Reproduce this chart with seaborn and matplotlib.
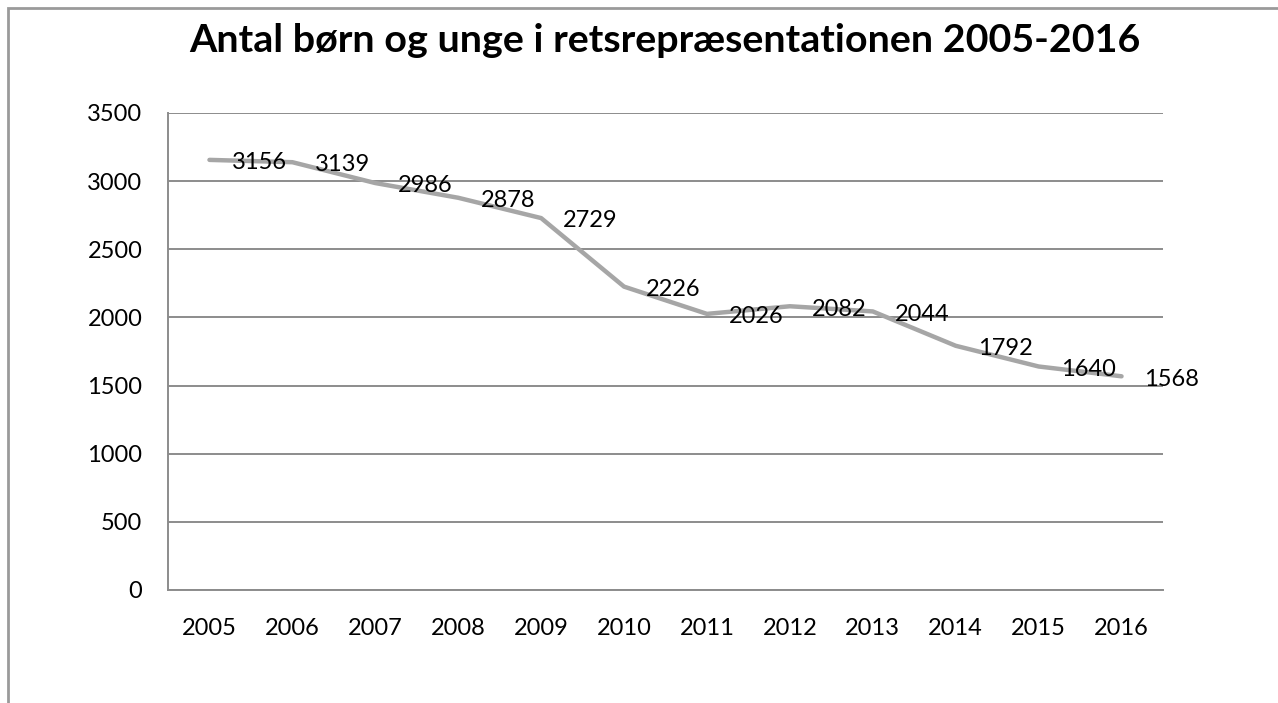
import matplotlib
matplotlib.use('Agg')
import matplotlib.pyplot as plt
import seaborn as sns
import pandas as pd
from matplotlib.patches import Rectangle

# data
years = ['2005', '2006', '2007', '2008', '2009', '2010',
         '2011', '2012', '2013', '2014', '2015', '2016']
counts = [3156, 3139, 2986, 2878, 2729, 2226,
          2026, 2082, 2044, 1792, 1640, 1568]
y_ticks = [0, 500, 1000, 1500, 2000, 2500, 3000, 3500]
title = 'Antal børn og unge i retsrepræsentationen 2005-2016'

df = pd.DataFrame({'year': years, 'count': counts})

sns.set_theme(style='white')
plt.rcParams['font.family'] = ['Lato', 'DejaVu Sans']

fig = plt.figure(figsize=(12.78, 7.03), dpi=100)
ax = fig.add_axes([168 / 1278, 1 - 590 / 703, (1163 - 168) / 1278, (590 - 113) / 703])

sns.lineplot(data=df, x='year', y='count', ax=ax, color='#a6a6a6',
             linewidth=3.2, sort=False, solid_joinstyle='round',
             solid_capstyle='round')

# data labels to the right of each point
for i, v in enumerate(counts):
    ax.annotate(f'{v}', (i, v), xytext=(16, -2), textcoords='offset points',
                ha='left', va='center', fontsize=17, color='black')

ax.set_xlim(-0.5, len(years) - 0.5)
ax.set_ylim(0, 3500)
ax.set_yticks(y_ticks)
ax.yaxis.grid(True, color='#8c8c8c', linewidth=1.4)
ax.xaxis.grid(False)
ax.set_axisbelow(True)
ax.tick_params(axis='both', length=0, labelsize=17, colors='black')
ax.tick_params(axis='y', pad=18.5)
ax.tick_params(axis='x', pad=20)
ax.set_xlabel('')
ax.set_ylabel('')
for side in ['top', 'right']:
    ax.spines[side].set_visible(False)
for side in ['left', 'bottom']:
    ax.spines[side].set_color('#8c8c8c')
    ax.spines[side].set_linewidth(1.4)

fig.text(665 / 1278, 1 - 40 / 703, title, ha='center', va='center',
         fontsize=28.4, fontweight='bold', color='black')

# outer chart border (cut off at right and bottom)
fig.patches.append(Rectangle((8 / 1278, -0.1), 1.2, 1 - 8 / 703 + 0.1,
                             transform=fig.transFigure, fill=False,
                             edgecolor='#9a9a9a', linewidth=2.0))

fig.savefig('out.png', dpi=100)
plt.close(fig)
